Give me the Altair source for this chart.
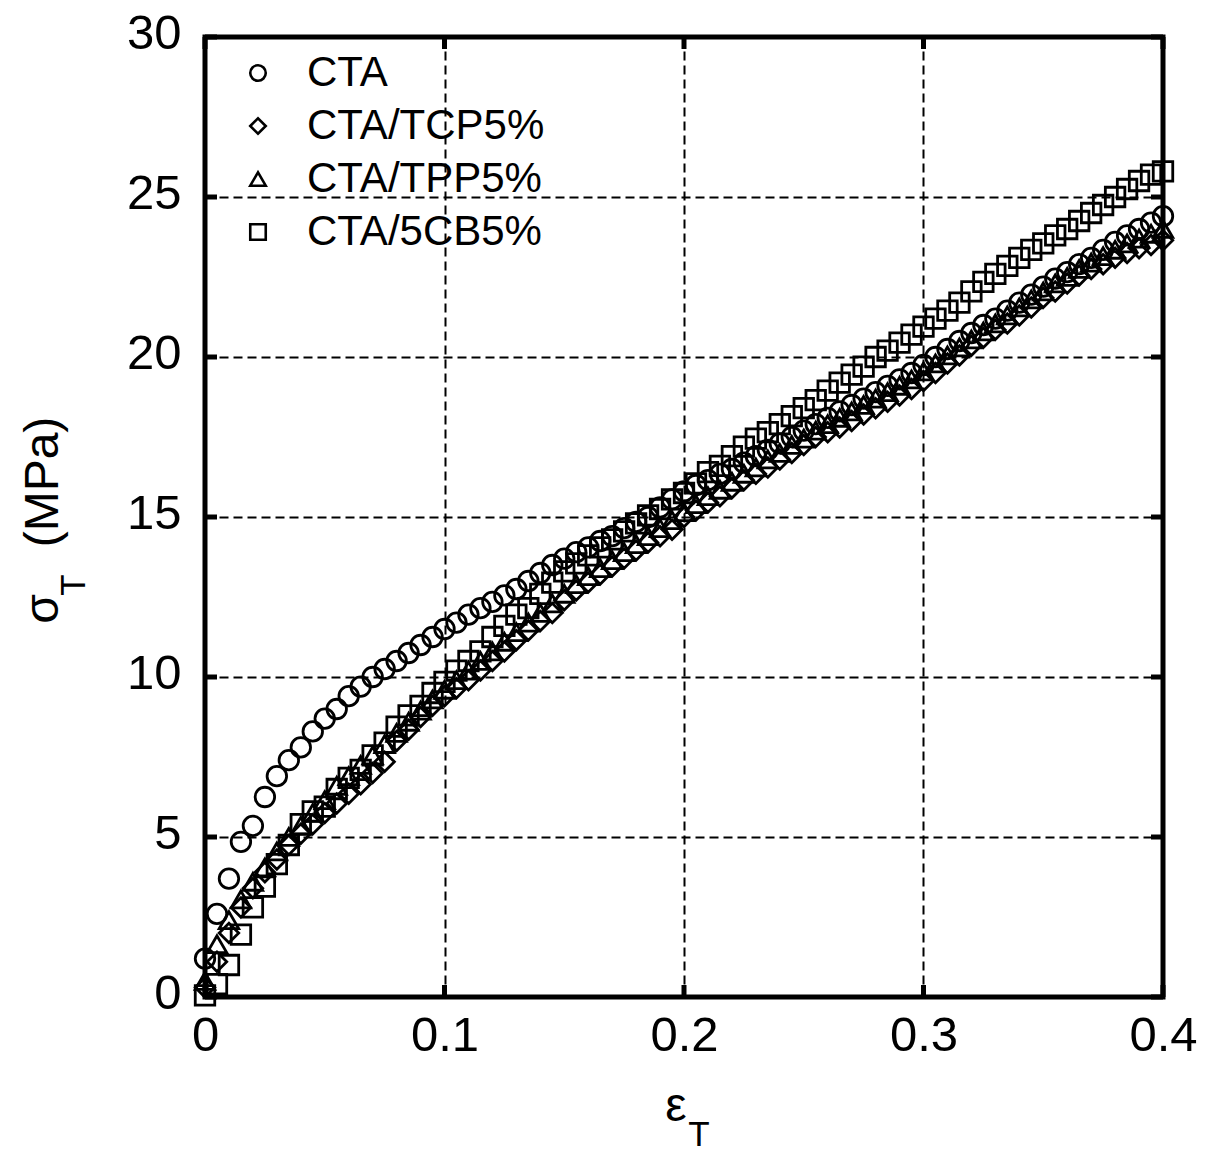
import altair as alt
import pandas as pd

# ---- data ----
strain = [0.000, 0.005, 0.010, 0.015, 0.020, 0.025, 0.030, 0.035, 0.040, 0.045,
          0.050, 0.055, 0.060, 0.065, 0.070, 0.075, 0.080, 0.085, 0.090, 0.095,
          0.100, 0.105, 0.110, 0.115, 0.120, 0.125, 0.130, 0.135, 0.140, 0.145,
          0.150, 0.155, 0.160, 0.165, 0.170, 0.175, 0.180, 0.185, 0.190, 0.195,
          0.200, 0.205, 0.210, 0.215, 0.220, 0.225, 0.230, 0.235, 0.240, 0.245,
          0.250, 0.255, 0.260, 0.265, 0.270, 0.275, 0.280, 0.285, 0.290, 0.295,
          0.300, 0.305, 0.310, 0.315, 0.320, 0.325, 0.330, 0.335, 0.340, 0.345,
          0.350, 0.355, 0.360, 0.365, 0.370, 0.375, 0.380, 0.385, 0.390, 0.395,
          0.400]

cta = [1.2, 2.6, 3.7, 4.85, 5.35, 6.25, 6.9, 7.4, 7.8, 8.3,
       8.7, 9.0, 9.4, 9.7, 10.0, 10.25, 10.5, 10.75, 11.0, 11.25,
       11.5, 11.7, 11.95, 12.15, 12.35, 12.55, 12.75, 13.0, 13.25, 13.5,
       13.7, 13.9, 14.05, 14.25, 14.4, 14.65, 14.85, 15.0, 15.3, 15.55,
       15.8, 16.0, 16.15, 16.35, 16.5, 16.7, 16.9, 17.1, 17.3, 17.5,
       17.7, 17.9, 18.1, 18.3, 18.5, 18.7, 18.9, 19.1, 19.3, 19.5,
       19.75, 20.0, 20.25, 20.5, 20.75, 21.0, 21.2, 21.45, 21.7, 21.95,
       22.2, 22.45, 22.65, 22.9, 23.1, 23.35, 23.6, 23.8, 24.0, 24.2,
       24.4]

tcp = [0.3, 1.1, 2.0, 2.8, 3.4, 3.9, 4.3, 4.75, 5.1, 5.4,
       5.75, 6.05, 6.35, 6.65, 7.0, 7.35, 8.0, 8.35, 8.75, 9.1,
       9.4, 9.65, 9.9, 10.2, 10.5, 10.8, 11.15, 11.45, 11.75, 12.0,
       12.4, 12.7, 12.95, 13.2, 13.45, 13.7, 13.95, 14.2, 14.4, 14.6,
       15.0, 15.2, 15.45, 15.65, 15.9, 16.15, 16.35, 16.55, 16.8, 17.0,
       17.25, 17.5, 17.65, 17.8, 18.0, 18.2, 18.4, 18.6, 18.8, 19.0,
       19.25, 19.5, 19.8, 20.05, 20.35, 20.6, 20.85, 21.05, 21.3, 21.55,
       21.85, 22.05, 22.3, 22.55, 22.75, 22.9, 23.1, 23.25, 23.4, 23.5,
       23.65]

tpp = [0.5, 1.65, 2.4, 3.05, 3.6, 4.05, 4.55, 5.0, 5.35, 5.75,
       6.15, 6.6, 6.9, 7.25, 7.55, 7.9, 8.25, 8.6, 8.95, 9.3,
       9.6, 9.9, 10.2, 10.5, 10.8, 11.1, 11.4, 11.7, 12.0, 12.3,
       12.6, 12.9, 13.15, 13.4, 13.65, 13.9, 14.15, 14.4, 14.65, 14.9,
       15.15, 15.4, 15.65, 15.85, 16.1, 16.35, 16.55, 16.8, 17.0, 17.25,
       17.45, 17.7, 17.9, 18.1, 18.3, 18.5, 18.7, 18.9, 19.1, 19.3,
       19.55, 19.8, 20.05, 20.3, 20.55, 20.8, 21.05, 21.3, 21.55, 21.8,
       22.05, 22.3, 22.5, 22.75, 22.95, 23.15, 23.35, 23.55, 23.7, 23.85,
       24.0]

cb5 = [0.05, 0.4, 1.0, 1.95, 2.8, 3.45, 4.15, 4.75, 5.4, 5.8,
       5.95, 6.5, 6.85, 7.1, 7.55, 7.95, 8.45, 8.8, 9.1, 9.5,
       9.85, 10.2, 10.5, 10.8, 11.25, 11.6, 11.95, 12.15, 12.6, 12.95,
       13.3, 13.55, 13.8, 14.05, 14.3, 14.55, 14.8, 15.05, 15.25, 15.55,
       15.75, 16.05, 16.4, 16.6, 16.9, 17.2, 17.45, 17.65, 17.9, 18.15,
       18.4, 18.65, 18.95, 19.2, 19.45, 19.7, 20.0, 20.2, 20.45, 20.7,
       20.95, 21.2, 21.45, 21.7, 22.05, 22.35, 22.6, 22.85, 23.1, 23.35,
       23.55, 23.8, 24.0, 24.25, 24.5, 24.75, 25.0, 25.25, 25.5, 25.7,
       25.8]

series_names = ["CTA", "CTA/TCP5%", "CTA/TPP5%", "CTA/5CB5%"]
series_shapes = ["circle", "diamond", "triangle-up", "square"]
x_ticks = [0, 0.1, 0.2, 0.3, 0.4]
y_ticks = [0, 5, 10, 15, 20, 25, 30]

rows = []
for name, vals in zip(series_names, [cta, tcp, tpp, cb5]):
    for e, s in zip(strain, vals):
        rows.append({"strain": e, "stress": s, "series": name})
df = pd.DataFrame(rows)

W, H = 958, 960
FONT = "Liberation Sans"

xscale = alt.Scale(domain=[0, 0.4], nice=False, zero=False)
yscale = alt.Scale(domain=[0, 30], nice=False, zero=False)

points = alt.Chart(df).mark_point(filled=False, strokeWidth=2.8, size=380, color="black",
                                  opacity=1).encode(
    x=alt.X("strain:Q", scale=xscale,
            axis=alt.Axis(values=x_ticks, title=None, grid=True, tickSize=0, domain=False,
                          labelFontSize=49, labelFont=FONT, labelColor="black", labelPadding=14,
                          labelFlush=False,
                          labelExpr="datum.value == 0 ? '0' : format(datum.value, '.1f')",
                          gridColor="black", gridDash=[9, 5], gridWidth=2, gridOpacity=1)),
    y=alt.Y("stress:Q", scale=yscale,
            axis=alt.Axis(values=y_ticks, title=None, grid=True, tickSize=0, domain=False,
                          labelFontSize=49, labelFont=FONT, labelColor="black", labelPadding=24,
                          labelOffset=-4, labelFlush=False,
                          gridColor="black", gridDash=[9, 5], gridWidth=2, gridOpacity=1)),
    shape=alt.Shape("series:N", scale=alt.Scale(domain=series_names, range=series_shapes),
                    legend=alt.Legend(title=None, orient="none", legendX=32, legendY=15,
                                      labelFontSize=42, labelFont=FONT, labelColor="black",
                                      labelOffset=28, symbolSize=240, symbolStrokeWidth=2.6,
                                      symbolStrokeColor="black", symbolFillColor="transparent",
                                      symbolOpacity=1,
                                      rowPadding=11, padding=0, labelLimit=600)),
)

# inward tick marks on all four sides
ytick_df = pd.DataFrame({"yt": y_ticks})
xtick_df = pd.DataFrame({"xt": x_ticks})
tick_style = dict(color="black", strokeWidth=5)
yl = alt.Chart(ytick_df).mark_rule(**tick_style).encode(
    y=alt.Y("yt:Q", scale=yscale), x=alt.value(0), x2=alt.value(12))
yr = alt.Chart(ytick_df).mark_rule(**tick_style).encode(
    y=alt.Y("yt:Q", scale=yscale), x=alt.value(W - 12), x2=alt.value(W))
xb = alt.Chart(xtick_df).mark_rule(**tick_style).encode(
    x=alt.X("xt:Q", scale=xscale), y=alt.value(H - 12), y2=alt.value(H))
xtp = alt.Chart(xtick_df).mark_rule(**tick_style).encode(
    x=alt.X("xt:Q", scale=xscale), y=alt.value(0), y2=alt.value(12))

# axis titles with subscripts
def label(txt, x, y, size, angle=0, align="center", baseline="alphabetic"):
    return alt.Chart(pd.DataFrame({"t": [txt]})).mark_text(
        font=FONT, fontSize=size, color="black", angle=angle, align=align, baseline=baseline
    ).encode(text="t:N", x=alt.value(x), y=alt.value(y))

OX, OY = 205, 37
titles = [
    label("\u03b5", 676 - OX, 1121 - OY, 48),
    label("T", 699 - OX, 1146 - OY, 35),
    label("\u03c3", 58 - OX, 609 - OY, 48, angle=270),
    label("T", 85 - OX, 585 - OY, 35, angle=270),
    label("(MPa)", 58 - OX, 482 - OY, 48, angle=270),
]

chart = alt.layer(points, yl, yr, xb, xtp, *titles).properties(
    width=W, height=H,
    autosize=alt.AutoSizeParams(type="none"),
    padding={"left": OX, "top": OY, "right": 1209 - OX - W, "bottom": 1153 - OY - H},
    background="white",
).configure_view(stroke="black", strokeWidth=5)

chart.save("out.html", embed_options={"renderer": "svg", "actions": False})
